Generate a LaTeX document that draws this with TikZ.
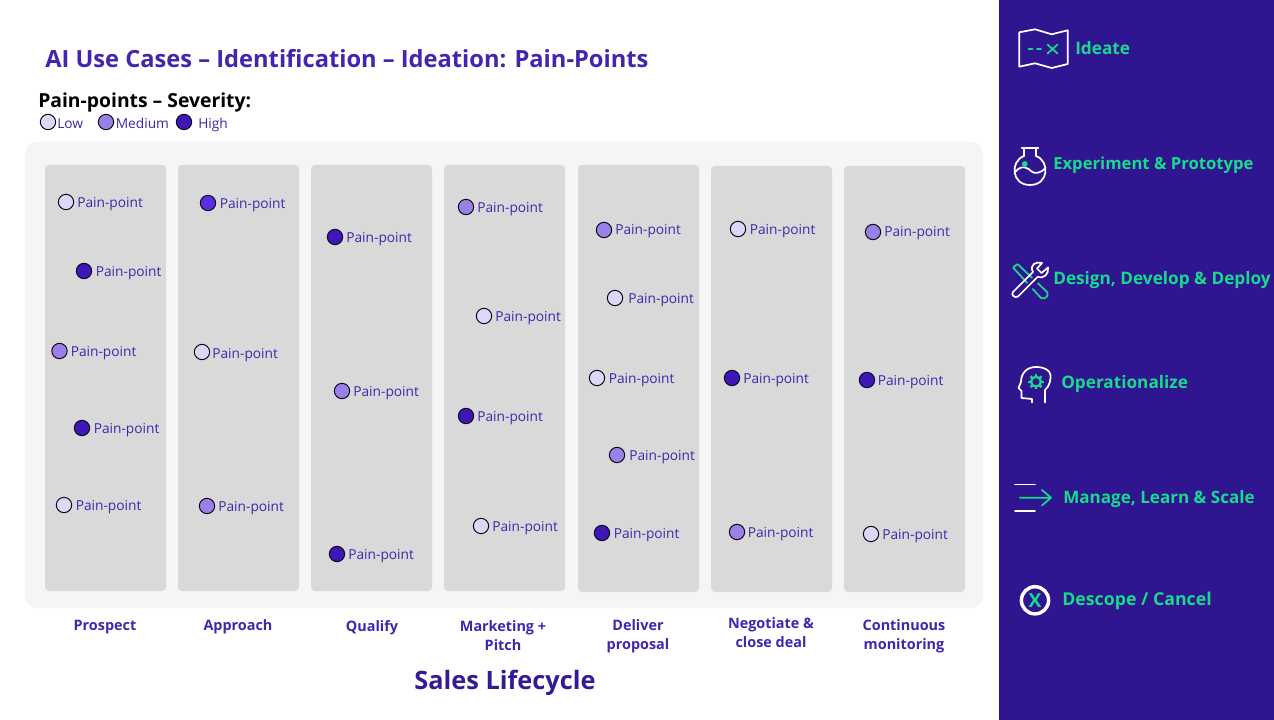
\documentclass[tikz,border=0pt]{standalone}
\usepackage{fontspec}
\setmainfont{Open Sans}
\definecolor{panel}{HTML}{2F158F}
\definecolor{mint}{HTML}{18DA8C}
\definecolor{ink}{HTML}{4325AE}
\definecolor{headink}{HTML}{341A96}
\definecolor{lowc}{HTML}{DDD8F8}
\definecolor{medc}{HTML}{9B80E8}
\definecolor{highc}{HTML}{3F16B8}
\definecolor{brightc}{HTML}{5B2EE0}
\tikzset{
 x=0.75pt,y=-0.75pt,
 dot/.style={circle,draw=black!85!ink,line width=0.75pt,minimum size=11.5pt,inner sep=0pt},
 low/.style={dot,fill=lowc},
 med/.style={dot,fill=medc},
 high/.style={dot,fill=highc},
 bright/.style={dot,fill=brightc},
 pplabel/.style={anchor=west,inner sep=0pt,text=ink,text height=8.4pt,text depth=0pt,font=\fontsize{10.3}{12}\selectfont},
 colbox/.style={fill=black!15,rounded corners=3pt},
 collabel/.style={align=center,text=ink,font=\fontsize{10.8}{14.2}\selectfont\bfseries,inner sep=0pt},
 sidelabel/.style={anchor=west,inner sep=0pt,text=mint,text height=9.2pt,text depth=0pt,font=\fontsize{12.9}{15}\selectfont\bfseries},
 whiteicon/.style={draw=white,line width=1.3pt,line join=round,line cap=round},
 minticon/.style={draw=mint,line width=1.3pt,line join=round,line cap=round},
}
\newcommand{\ppt}[6]{\node[#4] (#1) at (#2,#3) {}; \node[pplabel] (#1t) at (#5,#6) {Pain-point};}
\begin{document}
\begin{tikzpicture}
\useasboundingbox (0,0) rectangle (1274,720);
\fill[white] (0,0) rectangle (1274,720);
\fill[panel] (999,0) rectangle (1274,720);
\fill[black!4,rounded corners=9pt] (25,142) rectangle (983,608);
\fill[colbox] (45,165) rectangle (166,591);
\fill[colbox] (178,165) rectangle (299,591);
\fill[colbox] (311,165) rectangle (432,591);
\fill[colbox] (444,165) rectangle (565,591);
\fill[colbox] (578,165) rectangle (699,592);
\fill[colbox] (711,166) rectangle (832,592);
\fill[colbox] (844,166) rectangle (965,592);

\node[anchor=west,inner sep=0pt,text=ink,text height=13.7pt,text depth=0pt,font=\fontsize{17.75}{22}\selectfont\bfseries] (title) at (45,58.5) {AI Use Cases – Identification – Ideation: Pain-Points};
\node[anchor=west,inner sep=0pt,text=black,text height=10.3pt,text depth=0pt,font=\fontsize{14.5}{17}\selectfont\bfseries] (sev) at (38,100.5) {Pain-points – Severity:};
\node[low] (l1) at (48,122) {}; \node[pplabel] (l1t) at (57,122.5) {Low};
\node[med] (l2) at (106,122) {}; \node[pplabel] (l2t) at (115.5,122.5) {Medium};
\node[high] (l3) at (184,122) {}; \node[pplabel] (l3t) at (198,122.5) {High};

\ppt{a1}{66}{202}{low}{77}{202}
\ppt{a2}{84}{271}{high}{95.5}{270.5}
\ppt{a3}{59.5}{351}{med}{70.5}{351}
\ppt{a4}{82}{428}{high}{93.5}{428}
\ppt{a5}{64}{505}{low}{75.5}{505}
\ppt{b1}{208}{203}{bright}{219.5}{203}
\ppt{b2}{202}{352}{low}{212}{353}
\ppt{b3}{207}{506}{med}{218}{506}
\ppt{c1}{335}{237}{high}{346}{237}
\ppt{c2}{342}{391}{med}{353}{391}
\ppt{c3}{337}{554}{high}{348}{553.5}
\ppt{d1}{466}{207}{med}{477}{207}
\ppt{d2}{484}{316}{low}{495}{316}
\ppt{d3}{466}{416}{high}{477}{416}
\ppt{d4}{481}{526}{low}{492}{526}
\ppt{e1}{604}{230}{med}{615}{229}
\ppt{e2}{615}{298}{low}{628}{298}
\ppt{e3}{597}{378}{low}{608.5}{378}
\ppt{e4}{617}{455}{med}{629}{455}
\ppt{e5}{602}{533}{high}{613.5}{532.5}
\ppt{f1}{738}{229}{low}{749.5}{229}
\ppt{f2}{732}{378}{high}{743}{378}
\ppt{f3}{737}{532}{med}{747.5}{532}
\ppt{g1}{873}{232}{med}{884}{231}
\ppt{g2}{867}{380}{high}{877.5}{380}
\ppt{g3}{871}{534}{low}{882}{534}

\node[collabel] (s1) at (105,627.5) {Prospect};
\node[collabel] (s2) at (238,626.5) {Approach};
\node[collabel] (s3) at (372,627.5) {Qualify};
\node[collabel] (s4) at (503,635.5) {Marketing +\\Pitch};
\node[collabel] (s5) at (638,636.5) {Deliver\\proposal};
\node[collabel] (s6) at (771,632.5) {Negotiate \&\\close deal};
\node[collabel] (s7) at (904,636.5) {Continuous\\monitoring};
\node[inner sep=0pt,text=headink,text height=13.6pt,text depth=0pt,font=\fontsize{19}{22}\selectfont\bfseries] (life) at (505,680) {Sales Lifecycle};

% side labels
\node[sidelabel] (i1) at (1075,48) {Ideate};
\node[sidelabel,font=\fontsize{12.5}{15}\selectfont\bfseries] (i2) at (1053,163) {Experiment \& Prototype};
\node[sidelabel] (i3) at (1053,278) {Design, Develop \& Deploy};
\node[sidelabel] (i4) at (1061,382) {Operationalize};
\node[sidelabel,font=\fontsize{12.8}{15}\selectfont\bfseries] (i5) at (1063,497) {Manage, Learn \& Scale};
\node[sidelabel,font=\fontsize{13.3}{15}\selectfont\bfseries] (i6) at (1062,599) {Descope / Cancel};

% map icon
\draw[whiteicon] (1019.3,32.3) -- (1035,29.3) -- (1051.7,34.3) -- (1067.7,30.3) -- (1067.7,64) -- (1051.7,68) -- (1035,63.3) -- (1019.3,66.7) -- cycle;
\draw[minticon] (1028.5,49) -- (1032.5,49) (1037,49) -- (1041,49);
\draw[minticon] (1047.5,44.5) -- (1057.5,53.5) (1057.5,44.5) -- (1047.5,53.5);

% flask icon
\draw[whiteicon] (1021.7,147.7) -- (1038.3,147.7) (1024,147.7) -- (1024,156) (1036,147.7) -- (1036,156);
\draw[whiteicon] (1024,156) .. controls (1010,161) and (1011,185) .. (1030,185) .. controls (1049,185) and (1050,161) .. (1036,156);
\draw[whiteicon] (1015,172) .. controls (1022,164) and (1028,168) .. (1031,171) .. controls (1034,174) and (1040,174) .. (1045.5,168);
\fill[mint] (1024.7,164) circle[radius=2.2pt];

% tools icon
\draw[minticon,rounded corners=0.5pt] (1013,267.5) -- (1017.5,264) -- (1047,292) .. controls (1049,296) and (1045,299.5) .. (1041,298) -- cycle;
\fill[panel] (1024,287) -- (1042,268) -- (1047,273) -- (1029,292) -- cycle;
\draw[whiteicon] (1013,292) -- (1033,272) .. controls (1029,265) and (1036,261) .. (1042,263) -- (1037,268.5) -- (1041.5,273) -- (1048,267.5) .. controls (1049,274) and (1044,279) .. (1037.5,277) -- (1018,296.5) .. controls (1015,298.5) and (1010.5,295) .. (1013,292) -- cycle;

% head icon
\draw[whiteicon] (1045,402.5) -- (1045,390) .. controls (1050,386) and (1051,378) .. (1050.5,375) .. controls (1050,370) and (1044,367) .. (1036,367) .. controls (1026,367) and (1021,374) .. (1021,382) -- (1018.5,388) -- (1021.5,391) -- (1021.5,398) -- (1032,399) -- (1032,402.5);
\draw[mint,line width=1.7pt] (1036,381.7) circle[radius=3.7pt];
\foreach \a in {0,45,...,315} \draw[mint,line width=1.8pt] (1036,381.7) ++(\a:5.5) -- ++(\a:2.2);

% manage icon
\draw[whiteicon] (1015,484.5) -- (1035,484.5) (1015,511) -- (1035,511);
\draw[minticon] (1020,497.7) -- (1051,497.7) (1042,490) -- (1051,497.7) -- (1042,505.5);

% descope icon
\draw[white,line width=2.6pt] (1035,600.3) circle[radius=10.2pt];
\node[inner sep=0pt,text=mint,font=\fontsize{14.5}{15}\selectfont\bfseries] (x) at (1035,600.5) {X};
\end{tikzpicture}
\end{document}
